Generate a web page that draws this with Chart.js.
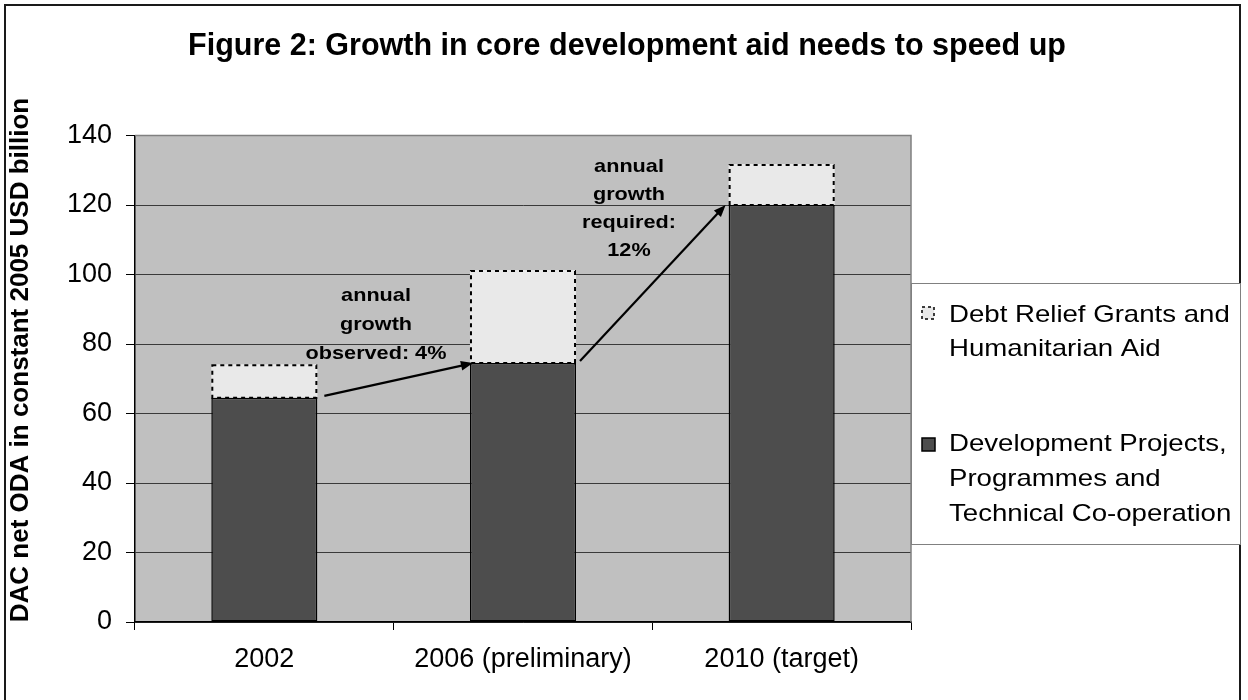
<!DOCTYPE html>
<html>
<head>
<meta charset="utf-8">
<script src="https://cdn.jsdelivr.net/npm/chart.js@4/dist/chart.umd.min.js"></script>
<style>
  html, body { margin: 0; padding: 0; background: #ffffff; }
  canvas { display: block; }
</style>
</head>
<body>
<canvas id="chart" width="1248" height="700"></canvas>
<script>
// Categories and series (USD billion, constant 2005 prices)
const categories = ['2002', '2006 (preliminary)', '2010 (target)'];
const devProjects = [64.5, 74.5, 120];
const debtHumanitarian = [9.7, 26.8, 11.8];

// Value axis
const yMin = 0;
const yMax = 140;
const yStep = 20;

// Text
const chartTitle = 'Figure 2: Growth in core development aid needs to speed up';
const yAxisTitle = 'DAC net ODA in constant 2005 USD billion';
const devLabelLines = ['Development Projects,', 'Programmes and', 'Technical Co-operation'];
const debtLabelLines = ['Debt Relief Grants and', 'Humanitarian Aid'];
const observedNote = ['annual', 'growth', 'observed: 4%'];
const requiredNote = ['annual', 'growth', 'required:', '12%'];

const FONT = '"Liberation Sans", Arial, Helvetica, sans-serif';

// text drawn slightly widened, like the rest of the figure's lettering
function wideText(ctx, text, x, y, sx) {
  ctx.save();
  ctx.translate(x, y);
  ctx.scale(sx, 1);
  ctx.fillText(text, 0, 0);
  ctx.restore();
}

// Grey plot background, frame, title, axis title, legend, arrows and notes
const decorations = {
  id: 'decorations',
  beforeDraw(chart) {
    const { ctx, chartArea: a } = chart;
    ctx.save();
    ctx.fillStyle = '#ffffff';
    ctx.fillRect(0, 0, chart.width, chart.height);
    ctx.fillStyle = '#c0c0c0';
    ctx.fillRect(a.left, a.top, a.right - a.left, a.bottom - a.top);
    ctx.restore();
  },
  afterDatasetsDraw(chart) {
    const { ctx, chartArea: a } = chart;
    const devMeta = chart.getDatasetMeta(0);
    const debtMeta = chart.getDatasetMeta(1);

    // dashed outline of the upper segments
    ctx.save();
    ctx.strokeStyle = '#000000';
    ctx.lineWidth = 2;
    ctx.setLineDash([4, 4]);
    debtMeta.data.forEach(el => {
      const left = el.x - el.width / 2;
      ctx.strokeRect(left + 1, el.y + 1, el.width - 2, el.base - el.y - 1);
    });
    ctx.restore();

    // plot area edges
    ctx.save();
    ctx.strokeStyle = '#808080';
    ctx.lineWidth = 1.5;
    ctx.beginPath();
    ctx.moveTo(a.left, a.top);
    ctx.lineTo(a.right, a.top);
    ctx.lineTo(a.right, a.bottom);
    ctx.stroke();
    ctx.restore();

    // growth arrows between the lower segments
    const d = devMeta.data;
    drawArrow(ctx, d[0].x + d[0].width / 2 + 7, d[0].y - 2, d[1].x - d[1].width / 2 + 3, d[1].y);
    drawArrow(ctx, d[1].x + d[1].width / 2 + 4, d[1].y - 2, d[2].x - d[2].width / 2 - 3, d[2].y);

    // notes
    ctx.save();
    ctx.fillStyle = '#000000';
    ctx.font = 'bold 19px ' + FONT;
    ctx.textAlign = 'center';
    ctx.textBaseline = 'middle';
    observedNote.forEach((t, i) => wideText(ctx, t, 376, 296 + i * 29, 1.14));
    requiredNote.forEach((t, i) => wideText(ctx, t, 629, 167 + i * 28, 1.14));
    ctx.restore();
  },
  afterDraw(chart) {
    const { ctx } = chart;
    ctx.save();
    // outer frame
    ctx.strokeStyle = '#1a1a1a';
    ctx.lineWidth = 2;
    ctx.strokeRect(5, 5, 1235, 720);

    // title
    ctx.fillStyle = '#000000';
    ctx.font = 'bold 30.5px ' + FONT;
    ctx.textAlign = 'center';
    ctx.textBaseline = 'alphabetic';
    ctx.fillText(chartTitle, 627, 55);

    // value axis title
    ctx.save();
    ctx.translate(21, 360);
    ctx.rotate(-Math.PI / 2);
    ctx.font = 'bold 26px ' + FONT;
    ctx.textBaseline = 'middle';
    ctx.fillText(yAxisTitle, 0, 0);
    ctx.restore();

    // legend box
    const lx = 911, ly = 283, lw = 329, lh = 261;
    ctx.fillStyle = '#ffffff';
    ctx.fillRect(lx, ly, lw, lh);
    ctx.strokeStyle = '#808080';
    ctx.lineWidth = 1;
    ctx.strokeRect(lx + 0.5, ly + 0.5, lw, lh);

    const devDs = chart.data.datasets[0];
    const debtDs = chart.data.datasets[1];

    // upper segment entry
    ctx.fillStyle = debtDs.backgroundColor;
    ctx.fillRect(922, 307, 12, 12);
    ctx.strokeStyle = '#000000';
    ctx.lineWidth = 1.5;
    ctx.setLineDash([3, 3]);
    ctx.strokeRect(922, 307, 12, 12);
    ctx.setLineDash([]);

    // lower segment entry
    ctx.fillStyle = devDs.backgroundColor;
    ctx.fillRect(922, 438, 13, 13);
    ctx.strokeStyle = '#000000';
    ctx.lineWidth = 1.5;
    ctx.strokeRect(922, 438, 13, 13);

    ctx.fillStyle = '#000000';
    ctx.font = '24px ' + FONT;
    ctx.textAlign = 'left';
    ctx.textBaseline = 'middle';
    debtLabelLines.forEach((t, i) => wideText(ctx, t, 949, 315 + i * 34, 1.15));
    devLabelLines.forEach((t, i) => wideText(ctx, t, 949, 444 + i * 35, 1.15));
    ctx.restore();
  }
};

function drawArrow(ctx, x1, y1, x2, y2) {
  const ang = Math.atan2(y2 - y1, x2 - x1);
  const head = 13, spread = 0.38;
  ctx.save();
  ctx.strokeStyle = '#000000';
  ctx.fillStyle = '#000000';
  ctx.lineWidth = 2.2;
  ctx.beginPath();
  ctx.moveTo(x1, y1);
  ctx.lineTo(x2 - Math.cos(ang) * head * 0.8, y2 - Math.sin(ang) * head * 0.8);
  ctx.stroke();
  ctx.beginPath();
  ctx.moveTo(x2, y2);
  ctx.lineTo(x2 - head * Math.cos(ang - spread), y2 - head * Math.sin(ang - spread));
  ctx.lineTo(x2 - head * Math.cos(ang + spread), y2 - head * Math.sin(ang + spread));
  ctx.closePath();
  ctx.fill();
  ctx.restore();
}

new Chart(document.getElementById('chart'), {
  type: 'bar',
  data: {
    labels: categories,
    datasets: [
      {
        label: devLabelLines.join(' '),
        data: devProjects,
        backgroundColor: '#4d4d4d',
        borderColor: '#000000',
        borderWidth: 1.5,
        borderSkipped: false
      },
      {
        label: debtLabelLines.join(' '),
        data: debtHumanitarian,
        backgroundColor: '#e9e9e9',
        borderWidth: 0
      }
    ]
  },
  options: {
    responsive: false,
    animation: false,
    events: [],
    layout: { padding: { top: 135.5, right: 337, left: 0, bottom: 0 } },
    datasets: { bar: { categoryPercentage: 1, barPercentage: 0.41 } },
    plugins: {
      legend: { display: false },
      title: { display: false },
      tooltip: { enabled: false }
    },
    scales: {
      x: {
        stacked: true,
        afterFit(scale) { scale.height = 78; },
        grid: { offset: true, drawOnChartArea: false, tickLength: 8, color: '#000000', lineWidth: 1 },
        border: { color: '#000000', width: 1.5 },
        ticks: { color: '#000000', font: { family: FONT, size: 27 }, padding: 13, maxRotation: 0 }
      },
      y: {
        stacked: true,
        min: yMin,
        max: yMax,
        afterFit(scale) { scale.width = 135; },
        grid: {
          color: ctx => (ctx.tick && ctx.tick.value === yMax ? '#808080' : '#3a3a3a'),
          lineWidth: 1,
          tickLength: 9,
          tickColor: '#000000'
        },
        border: { color: '#000000', width: 1.5 },
        ticks: { stepSize: yStep, color: '#000000', font: { family: FONT, size: 27 }, padding: 14 }
      }
    }
  },
  plugins: [decorations]
});
</script>
</body>
</html>
